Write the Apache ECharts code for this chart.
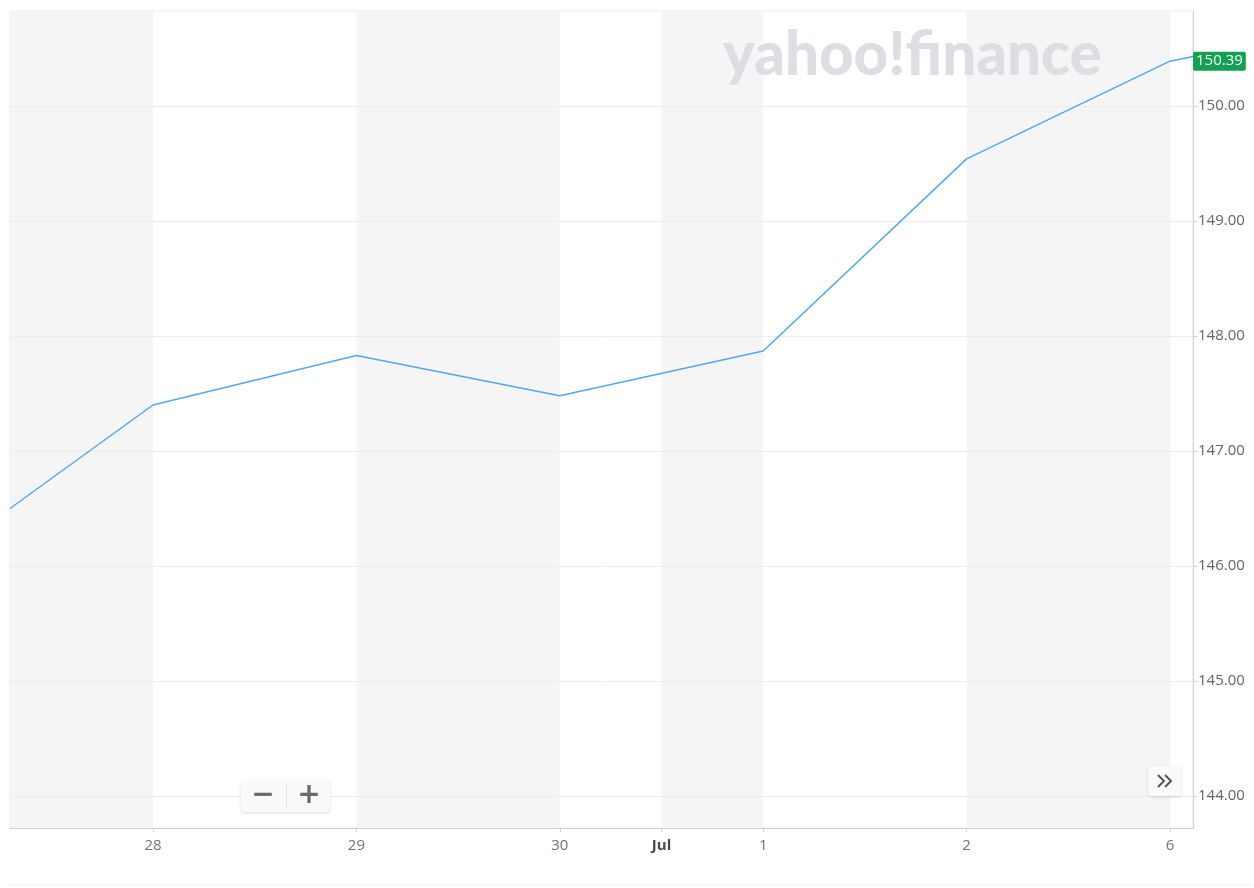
<!DOCTYPE html>
<html>
<head>
<meta charset="utf-8">
<script src="https://cdn.jsdelivr.net/npm/echarts@6/dist/echarts.min.js"></script>
<style>
  html, body { margin: 0; padding: 0; background: #fff; }
  #chart { width: 1254px; height: 888px; }
</style>
</head>
<body>
<div id="chart"></div>
<script>
// Price data (x = trading-day position, 28 Jun = 1 ... 6 Jul = 6)
const xPos = [0.297, 1, 2, 3, 4, 5, 6, 6.113];
const prices = [146.50, 147.40, 147.83, 147.48, 147.87, 149.54, 150.39, 150.43];
const lastPrice = 150.39;

// Axis ticks
const xTickValues = [1, 2, 3, 3.5, 4, 5, 6];
const xTickLabels = ['28', '29', '30', 'Jul', '1', '2', '6'];
const yTickValues = [144, 145, 146, 147, 148, 149, 150];
const xRange = [0.297, 6.113];
const yRange = [143.722, 150.826];

// alternating shaded day bands (every other gap between ticks)
const bandEdges = [xRange[0]].concat(xTickValues, [xRange[1]]);
const bands = [];
for (let i = 0; i < bandEdges.length - 1; i += 2) {
    bands.push([{ xAxis: bandEdges[i] }, { xAxis: bandEdges[i + 1] }]);
}

const chart = echarts.init(document.getElementById('chart'));
chart.setOption({
    animation: false,
    textStyle: { fontFamily: 'Open Sans' },
    grid: {
        left: 10, right: 61, top: 11, bottom: 60,
        show: true, borderColor: '#ebebeb', borderWidth: 1, backgroundColor: '#fff'
    },
    xAxis: {
        type: 'value',
        z: 3,
        min: xRange[0],
        max: xRange[1],
        axisLine: { lineStyle: { color: '#cfcfcf' } },
        axisTick: { customValues: xTickValues, length: 4, lineStyle: { color: '#cfcfcf' } },
        splitLine: { show: false },
        axisLabel: {
            customValues: xTickValues,
            margin: 10,
            fontSize: 15,
            color: '#6e7379',
            formatter: function (v) {
                const lbl = xTickLabels[xTickValues.indexOf(v)];
                return lbl === 'Jul' ? '{b|Jul}' : lbl;
            },
            rich: { b: { fontWeight: 'bold', color: '#464b52', fontSize: 15 } }
        }
    },
    yAxis: {
        type: 'value',
        z: 3,
        position: 'right',
        min: yRange[0],
        max: yRange[1],
        axisLine: { show: true, lineStyle: { color: '#cfcfcf' } },
        axisTick: { show: true, customValues: yTickValues, length: 4, lineStyle: { color: '#cfcfcf' } },
        splitLine: { show: true, lineStyle: { color: '#ececec' } },
        axisLabel: {
            customValues: yTickValues,
            margin: 5,
            fontSize: 15,
            color: '#5f656b',
            formatter: function (v) { return v.toFixed(2); }
        },
        axisPointer: {
            show: true,
            value: lastPrice,
            status: 'show',
            type: 'line',
            lineStyle: { opacity: 0 },
            label: {
                show: true,
                margin: 0,
                backgroundColor: '#12a150',
                color: '#fff',
                fontSize: 15,
                padding: [2, 3, 2, 3],
                borderRadius: 2,
                formatter: function (p) { return Number(p.value).toFixed(2); }
            }
        }
    },
    series: [
        {
            type: 'line',
            z: 1,
            data: [],
            silent: true,
            markArea: {
                silent: true,
                itemStyle: { color: '#f5f5f5' },
                data: bands
            }
        },
        {
            type: 'line',
            z: 4,
            data: xPos.map((x, i) => [x, prices[i]]),
            showSymbol: false,
            lineStyle: { color: '#52a8f0', width: 1.5 },
            itemStyle: { color: '#52a8f0' },
            silent: true
        }
    ],
    graphic: [
        {
            type: 'text',
            z: 100,
            left: 723, top: 26,
            silent: true,
            style: {
                text: 'yahoo!finance',
                font: '900 60px Lato',
                fill: '#dcdee3'
            }
        },
        {
            type: 'group',
            z: 100,
            left: 241, top: 780,
            children: [
                { type: 'rect', z: 100, shape: { x: 0, y: 0, width: 89, height: 32, r: 4 },
                  style: { fill: '#fafafa', shadowBlur: 3, shadowColor: 'rgba(0,0,0,0.15)', shadowOffsetY: 1 } },
                { type: 'rect', z: 101, shape: { x: 45, y: 4, width: 1, height: 24 }, style: { fill: '#e2e2e2' } },
                { type: 'text', z: 101, x: 22, y: 16,
                  style: { text: '\u2212', font: 'bold 28px DejaVu Sans', fill: '#6b6b6b', align: 'center', verticalAlign: 'middle' } },
                { type: 'text', z: 101, x: 68, y: 16,
                  style: { text: '+', font: 'bold 28px DejaVu Sans', fill: '#6b6b6b', align: 'center', verticalAlign: 'middle' } }
            ]
        },
        {
            type: 'group',
            z: 100,
            left: 1148, top: 766,
            children: [
                { type: 'rect', z: 100, shape: { x: 0, y: 0, width: 33, height: 30, r: 4 },
                  style: { fill: '#fafafa', shadowBlur: 3, shadowColor: 'rgba(0,0,0,0.15)', shadowOffsetY: 1 } },
                { type: 'polyline', z: 101, shape: { points: [[10, 9], [16, 15], [10, 21]] }, style: { stroke: '#555', lineWidth: 2, fill: null } },
                { type: 'polyline', z: 101, shape: { points: [[17, 9], [23, 15], [17, 21]] }, style: { stroke: '#555', lineWidth: 2, fill: null } }
            ]
        },
        {
            type: 'line',
            shape: { x1: 10, y1: 885, x2: 1254, y2: 885 },
            style: { stroke: '#efefef', lineWidth: 1 }
        }
    ]
});
</script>
</body>
</html>
